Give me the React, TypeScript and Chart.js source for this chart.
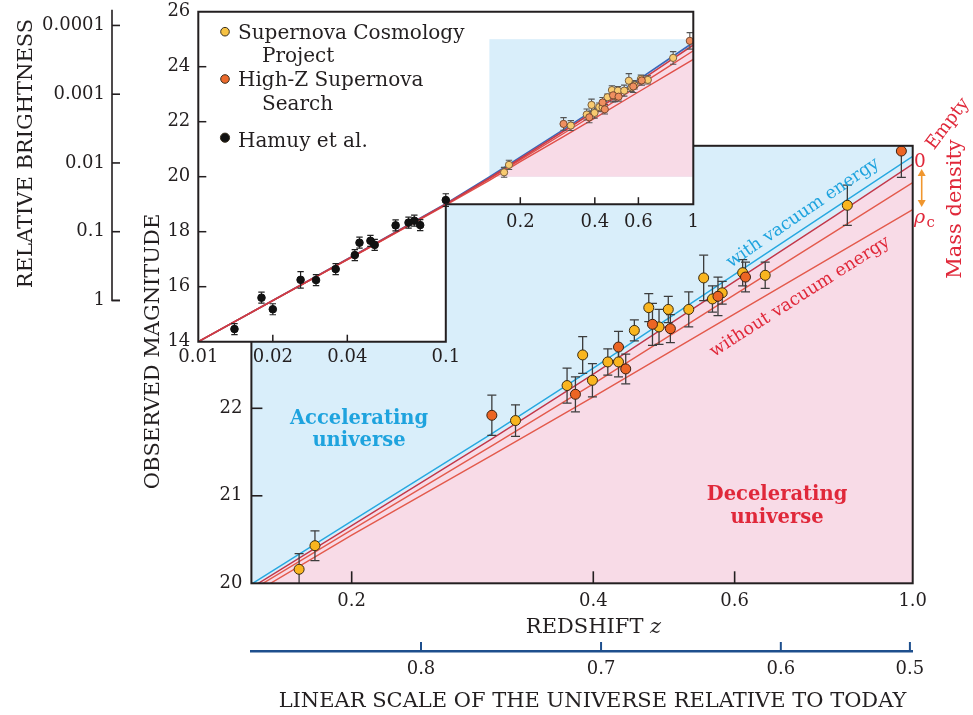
import React, { useEffect, useRef } from "react";
import { Chart, registerables } from "chart.js";

Chart.register(...registerables);

const FONT = "'DejaVu Serif', 'Liberation Serif', serif";
Chart.defaults.font.family = FONT;
Chart.defaults.color = "#231f20";

// ---------------- data ----------------
// Supernova Cosmology Project (yellow)
const scpZ = [0.172, 0.18, 0.32, 0.371, 0.388, 0.399, 0.417, 0.43, 0.45, 0.469, 0.483, 0.496, 0.526, 0.549, 0.563, 0.579, 0.614, 0.655, 0.829];
const scpMag = [20.16, 20.43, 21.86, 22.26, 22.61, 22.32, 22.53, 22.53, 22.89, 23.15, 22.93, 23.13, 23.13, 23.49, 23.25, 23.32, 23.55, 23.52, 24.32];
const scpErr = [0.18, 0.17, 0.18, 0.2, 0.21, 0.19, 0.15, 0.17, 0.12, 0.16, 0.2, 0.15, 0.2, 0.26, 0.15, 0.13, 0.15, 0.15, 0.23];

// High-Z Supernova Search (orange)
const hzZ = [0.299, 0.38, 0.43, 0.439, 0.474, 0.499, 0.572, 0.619, 0.968];
const hzMag = [21.92, 22.16, 22.7, 22.45, 22.96, 22.91, 23.28, 23.5, 24.94];
const hzErr = [0.23, 0.2, 0.18, 0.17, 0.24, 0.16, 0.22, 0.17, 0.3];

// Hamuy et al. (black, inset only)
const hamuyZ = [0.014, 0.018, 0.02, 0.0259, 0.0299, 0.0359, 0.0429, 0.0448, 0.0496, 0.0516, 0.0627, 0.0707, 0.0746, 0.0788, 0.1];
const hamuyMag = [14.46, 15.6, 15.18, 16.25, 16.24, 16.64, 17.15, 17.6, 17.67, 17.52, 18.23, 18.33, 18.4, 18.24, 19.15];
const hamuyErr = [0.2, 0.2, 0.2, 0.3, 0.2, 0.2, 0.2, 0.2, 0.2, 0.2, 0.2, 0.2, 0.2, 0.2, 0.23];

// model curves
const modelZ = [0.01, 0.02, 0.05, 0.1, 0.15, 0.2, 0.3, 0.4, 0.6, 0.8, 1.0];
const vacuumMag = [14.0, 15.5, 17.49, 19.02, 19.99, 20.71, 21.72, 22.46, 23.53, 24.29, 24.88];
const emptyMag = [14.0, 15.5, 17.48, 19.0, 19.95, 20.66, 21.66, 22.39, 23.45, 24.2, 24.79];
const halfMag = [14.0, 15.49, 17.47, 18.99, 19.92, 20.61, 21.58, 22.28, 23.3, 24.02, 24.58];
const critMag = [14.0, 15.49, 17.46, 18.97, 19.87, 20.55, 21.47, 22.13, 23.08, 23.75, 24.27];

// axes / ticks
const mainXTicks = [0.2, 0.4, 0.6, 1.0];
const mainXLabels = ["0.2", "0.4", "0.6", "1.0"];
const mainYTicks = [20, 21, 22];
const scaleTickZ = [0.244, 0.409, 0.685, 0.992];
const scaleTickLabels = ["0.8", "0.7", "0.6", "0.5"];
const insetXTicks = [0.01, 0.02, 0.04, 0.1];
const insetXLabels = ["0.01", "0.02", "0.04", "0.1"];
const insetUpperTicks = [0.2, 0.4, 0.6, 1];
const insetUpperLabels = ["0.2", "0.4", "0.6", "1"];
const insetYTicks = [14, 16, 18, 20, 22, 24, 26];
const brightnessMag = [15.5, 18, 20.5, 23, 25.5];
const brightnessLabels = ["1", "0.1", "0.01", "0.001", "0.0001"];
const shadeZ = [0.15, 1];
const shadeMag = [20, 25];
const insetStepZ = 0.1;
const insetStepMag = 19;

// ---------------- styles ----------------
const INK = "#231f20";
const BLUE_BG = "#d9eefa";
const PINK_BG = "#f8dbe7";
const CYAN = "#27a8e0";
const RED_DARK = "#c3374a";
const RED = "#e35a4c";
const NAVY = "#1e4f8d";
const YELLOW = "#f9b51f";
const ORANGE = "#ec6524";
const YELLOW_PALE = "#f8cb70";
const ORANGE_PALE = "#ef8f60";
const ERR = "#3c3c3c";
const TXT_RED = "#e0283a";
const TXT_CYAN = "#1ea3de";
const TICK_FONT = { family: FONT, size: 18 };

function pts(zs: number[], ms: number[]) {
  return zs.map((z, i) => ({ x: z, y: ms[i] }));
}
function errPts(zs: number[], ms: number[], es: number[]) {
  const out: any[] = [];
  zs.forEach((z, i) => {
    out.push({ x: z, y: ms[i] - es[i] }, { x: z, y: ms[i] + es[i] }, { x: z, y: null });
  });
  return out;
}
function lineDS(data: any[], color: string, width: number, order: number, extra: any = {}) {
  return { type: "line", data, borderColor: color, borderWidth: width, pointRadius: 0, fill: false, tension: 0, order, ...extra };
}
function errDS(data: any[], color: string, width: number, cap: number, order: number) {
  return {
    type: "line", data, borderColor: color, borderWidth: width, pointStyle: "line", pointRadius: cap,
    pointBorderColor: color, pointBorderWidth: width, pointBackgroundColor: color, spanGaps: false, fill: false, order,
  };
}
function dotDS(data: any[], fill: string, stroke: string, r: number, order: number) {
  return { type: "scatter", data, pointRadius: r, pointBackgroundColor: fill, pointBorderColor: stroke, pointBorderWidth: 1, showLine: false, order };
}
function fixed(kind: "w" | "h", size: number) {
  return (s: any) => {
    if (kind === "w") s.width = size;
    else s.height = size;
    s.paddingTop = 0; s.paddingBottom = 0; s.paddingLeft = 0; s.paddingRight = 0;
  };
}
function setTicks(values: number[]) {
  return (s: any) => {
    s.ticks = values.map((v) => ({ value: v }));
  };
}
function text(ctx: CanvasRenderingContext2D, s: string, x: number, y: number, font: string, color: string,
  align: CanvasTextAlign = "center", baseline: CanvasTextBaseline = "alphabetic", rot = 0) {
  ctx.save();
  ctx.translate(x, y);
  if (rot) ctx.rotate(rot);
  ctx.font = font;
  ctx.fillStyle = color;
  ctx.textAlign = align;
  ctx.textBaseline = baseline;
  ctx.fillText(s, 0, 0);
  ctx.restore();
}
function seg(ctx: CanvasRenderingContext2D, x1: number, y1: number, x2: number, y2: number) {
  ctx.beginPath();
  ctx.moveTo(x1, y1);
  ctx.lineTo(x2, y2);
  ctx.stroke();
}
const deg = (d: number) => (d * Math.PI) / 180;

// ---------------- main chart ----------------
const mainDecor = {
  id: "mainDecor",
  beforeDraw(chart: any) {
    const { ctx, chartArea: a } = chart;
    ctx.save();
    ctx.fillStyle = BLUE_BG;
    ctx.fillRect(a.left, a.top, a.right - a.left, a.bottom - a.top);
    ctx.restore();
  },
  afterDatasetsDraw(chart: any) {
    const { ctx } = chart;
    const bold = `bold 19.5px ${FONT}`;
    text(ctx, "Accelerating", 359, 423.5, bold, TXT_CYAN);
    text(ctx, "universe", 359, 445.5, bold, TXT_CYAN);
    text(ctx, "Decelerating", 777, 500, bold, TXT_RED);
    text(ctx, "universe", 777, 523, bold, TXT_RED);
    text(ctx, "with vacuum energy", 803, 213, `17.5px ${FONT}`, TXT_CYAN, "center", "middle", deg(-34.5));
    text(ctx, "without vacuum energy", 800, 297, `17.5px ${FONT}`, TXT_RED, "center", "middle", deg(-32.5));
  },
  afterDraw(chart: any) {
    const { ctx, chartArea: a, scales } = chart;
    ctx.save();
    ctx.strokeStyle = INK;
    ctx.lineWidth = 2;
    ctx.strokeRect(a.left, a.top, a.right - a.left, a.bottom - a.top);
    ctx.lineWidth = 1.6;
    for (const v of mainYTicks) {
      const y = scales.y.getPixelForValue(v);
      if (Math.abs(y - a.bottom) < 2 || Math.abs(y - a.top) < 2) continue;
      seg(ctx, a.left, y, a.left + 11, y);
    }
    for (const v of mainXTicks) {
      const x = scales.x.getPixelForValue(v);
      if (Math.abs(x - a.left) < 2 || Math.abs(x - a.right) < 2) continue;
      seg(ctx, x, a.bottom, x, a.bottom - 12);
    }
    const xs = scales.xs;
    ctx.strokeStyle = NAVY;
    ctx.lineWidth = 2;
    for (const v of scaleTickZ) {
      const x = xs.getPixelForValue(v);
      seg(ctx, x, xs.top, x, xs.top - 9);
    }
    ctx.restore();

    // titles
    const tf = `21px ${FONT}`;
    text(ctx, "OBSERVED MAGNITUDE", 159, 351.5, tf, INK, "center", "alphabetic", -Math.PI / 2);
    ctx.save();
    ctx.font = tf;
    const w1 = ctx.measureText("REDSHIFT ").width;
    ctx.font = `italic 21px ${FONT}`;
    const w2 = ctx.measureText("z").width;
    ctx.restore();
    const x0 = 593.5 - (w1 + w2) / 2;
    text(ctx, "REDSHIFT ", x0, 633, tf, INK, "left");
    text(ctx, "z", x0 + w1, 633, `italic 21px ${FONT}`, INK, "left");
    text(ctx, "LINEAR SCALE OF THE UNIVERSE RELATIVE TO TODAY", 592.5, 707, tf, INK);

    // mass-density annotation
    text(ctx, "0", 920, 166.7, `18.5px ${FONT}`, TXT_RED);
    text(ctx, "Empty", 948, 124, `18px ${FONT}`, TXT_RED, "center", "middle", deg(-53));
    text(ctx, "ρ", 914, 223, `italic 19px ${FONT}`, TXT_RED, "left");
    text(ctx, "c", 926.5, 227, `15px ${FONT}`, TXT_RED, "left");
    text(ctx, "Mass density", 961, 209, `21px ${FONT}`, TXT_RED, "center", "alphabetic", -Math.PI / 2);
    ctx.save();
    ctx.strokeStyle = "#f0962e";
    ctx.fillStyle = "#f0962e";
    ctx.lineWidth = 1.6;
    const ax = 921.7, ay1 = 169, ay2 = 207;
    seg(ctx, ax, ay1 + 5, ax, ay2 - 5);
    ctx.beginPath();
    ctx.moveTo(ax, ay1); ctx.lineTo(ax - 4, ay1 + 7); ctx.lineTo(ax + 4, ay1 + 7); ctx.closePath(); ctx.fill();
    ctx.beginPath();
    ctx.moveTo(ax, ay2); ctx.lineTo(ax - 4, ay2 - 7); ctx.lineTo(ax + 4, ay2 - 7); ctx.closePath(); ctx.fill();
    ctx.restore();
  },
};

function mainConfig(): any {
  return {
    type: "scatter",
    data: {
      datasets: [
        lineDS(pts(modelZ, emptyMag), RED_DARK, 1.4, 10, { fill: "start", backgroundColor: PINK_BG }),
        lineDS(pts(modelZ, critMag), RED, 1.4, 9),
        lineDS(pts(modelZ, halfMag), RED, 1.4, 8),
        lineDS(pts(modelZ, vacuumMag), CYAN, 1.4, 7),
        errDS(errPts(scpZ, scpMag, scpErr), ERR, 1.3, 4.5, 5),
        errDS(errPts(hzZ, hzMag, hzErr), ERR, 1.3, 4.5, 4),
        dotDS(pts(scpZ, scpMag), YELLOW, "#3b2c12", 5, 2),
        dotDS(pts(hzZ, hzMag), ORANGE, "#3b2010", 5, 1),
      ],
    },
    options: {
      responsive: false,
      animation: false,
      events: [],
      layout: { autoPadding: false, padding: { top: 145.8, right: 60.3, bottom: 0, left: 0 } },
      plugins: { legend: { display: false }, tooltip: { enabled: false }, title: { display: false } },
      scales: {
        x: {
          type: "logarithmic", min: 0.15, max: 1, bounds: "data", position: "bottom", weight: 0,
          afterBuildTicks: setTicks(mainXTicks), afterFit: fixed("h", 67.7),
          grid: { display: false, drawTicks: false }, border: { display: false },
          ticks: { autoSkip: false, maxRotation: 0, minRotation: 0, padding: 7.6, color: INK, font: TICK_FONT, callback: (_v: any, i: number) => mainXLabels[i] },
        },
        xs: {
          type: "logarithmic", min: 0.15, max: 1, bounds: "data", position: "bottom", weight: 1,
          afterBuildTicks: setTicks(scaleTickZ), afterFit: fixed("h", 64),
          grid: { display: false, drawTicks: false }, border: { display: true, color: NAVY, width: 2.5 },
          ticks: { autoSkip: false, maxRotation: 0, minRotation: 0, padding: 7.8, color: INK, font: TICK_FONT, callback: (_v: any, i: number) => scaleTickLabels[i] },
        },
        y: {
          type: "linear", min: 20, max: 25, bounds: "data", position: "left",
          afterBuildTicks: setTicks(mainYTicks), afterFit: fixed("w", 251.4),
          grid: { display: false, drawTicks: false }, border: { display: false },
          ticks: { padding: 9, color: INK, font: TICK_FONT, callback: (v: any) => String(v) },
        },
      },
    },
    plugins: [mainDecor],
  };
}

// ---------------- inset chart ----------------
function lPath(chart: any) {
  const { ctx, chartArea: a, scales } = chart;
  const sx = scales.x.getPixelForValue(insetStepZ);
  const sy = scales.y.getPixelForValue(insetStepMag);
  ctx.beginPath();
  ctx.moveTo(a.left, a.top);
  ctx.lineTo(a.right, a.top);
  ctx.lineTo(a.right, sy);
  ctx.lineTo(sx, sy);
  ctx.lineTo(sx, a.bottom);
  ctx.lineTo(a.left, a.bottom);
  ctx.closePath();
  return { sx, sy };
}

const insetDecor = {
  id: "insetDecor",
  beforeDraw(chart: any) {
    const { ctx } = chart;
    ctx.save();
    lPath(chart);
    ctx.fillStyle = "#ffffff";
    ctx.fill();
    ctx.restore();
  },
  beforeDatasetsDraw(chart: any) {
    const { ctx, scales } = chart;
    const x1 = scales.x.getPixelForValue(shadeZ[0]);
    const x2 = scales.x.getPixelForValue(shadeZ[1]);
    const y1 = scales.y.getPixelForValue(shadeMag[1]);
    const y2 = scales.y.getPixelForValue(shadeMag[0]);
    ctx.save();
    ctx.fillStyle = BLUE_BG;
    ctx.fillRect(x1, y1, x2 - x1, y2 - y1);
    ctx.restore();
  },
  afterDraw(chart: any) {
    const { ctx, chartArea: a, scales } = chart;
    ctx.save();
    const { sx, sy } = lPath(chart);
    ctx.strokeStyle = INK;
    ctx.lineWidth = 2;
    ctx.stroke();
    ctx.lineWidth = 1.5;
    for (const v of insetYTicks) {
      const y = scales.y.getPixelForValue(v);
      if (Math.abs(y - a.bottom) < 2 || Math.abs(y - a.top) < 2) continue;
      seg(ctx, a.left, y, a.left + 8, y);
    }
    for (const v of insetXTicks) {
      const x = scales.x.getPixelForValue(v);
      if (Math.abs(x - a.left) < 2 || Math.abs(x - sx) < 2) continue;
      seg(ctx, x, a.bottom, x, a.bottom - 7);
    }
    insetUpperTicks.forEach((v, i) => {
      const x = scales.x.getPixelForValue(v);
      if (Math.abs(x - a.right) > 2) seg(ctx, x, sy, x, sy - 7);
      text(ctx, insetUpperLabels[i], x, sy + 23, `18px ${FONT}`, INK);
    });
    // brightness bracket
    const yb = scales.yb;
    const bx = yb.right;
    const yBottom = yb.getPixelForValue(brightnessMag[0]);
    ctx.lineWidth = 1.6;
    ctx.beginPath();
    ctx.moveTo(bx, a.top - 2);
    ctx.lineTo(bx, yBottom);
    ctx.lineTo(bx + 8, yBottom);
    ctx.stroke();
    for (const v of brightnessMag) {
      const y = yb.getPixelForValue(v);
      seg(ctx, bx, y, bx + 8, y);
    }
    ctx.restore();

    text(ctx, "RELATIVE BRIGHTNESS", 31.5, 153.5, `21px ${FONT}`, INK, "center", "alphabetic", -Math.PI / 2);

    // legend
    const lf = `20px ${FONT}`;
    const dot = (x: number, y: number, fill: string, r: number) => {
      ctx.save();
      ctx.beginPath();
      ctx.arc(x, y, r, 0, Math.PI * 2);
      ctx.fillStyle = fill;
      ctx.fill();
      ctx.strokeStyle = "#3a3020";
      ctx.lineWidth = 1;
      ctx.stroke();
      ctx.restore();
    };
    dot(225, 31.7, "#f6c244", 4.3);
    dot(225, 79, "#ec6a2c", 4.3);
    dot(225, 137.7, "#111111", 4.6);
    text(ctx, "Supernova Cosmology", 238, 39.3, lf, INK, "left");
    text(ctx, "Project", 262, 61.7, lf, INK, "left");
    text(ctx, "High-Z Supernova", 238, 86, lf, INK, "left");
    text(ctx, "Search", 262, 110, lf, INK, "left");
    text(ctx, "Hamuy et al.", 238, 146.7, lf, INK, "left");
  },
};

function insetConfig(): any {
  const fillZ = modelZ.filter((z) => z >= shadeZ[0]);
  const fillMag = emptyMag.filter((_m, i) => modelZ[i] >= shadeZ[0]);
  return {
    type: "scatter",
    data: {
      datasets: [
        lineDS(pts(fillZ, fillMag), "rgba(0,0,0,0)", 0, 20, { fill: { value: shadeMag[0] }, backgroundColor: PINK_BG }),
        lineDS(pts(modelZ, vacuumMag), "#3a66b8", 1.6, 15),
        lineDS(pts(modelZ, critMag), "#e0504a", 1.4, 14),
        lineDS(pts(modelZ, halfMag), "#e0504a", 1.4, 13),
        lineDS(pts(modelZ, emptyMag), "#cc3b46", 1.6, 12),
        errDS(errPts(hamuyZ, hamuyMag, hamuyErr), "#222222", 1.2, 3.2, 6),
        errDS(errPts(scpZ, scpMag, scpErr), "#555555", 1.1, 3.2, 5),
        errDS(errPts(hzZ, hzMag, hzErr), "#555555", 1.1, 3.2, 4),
        dotDS(pts(scpZ, scpMag), YELLOW_PALE, "#7a6040", 3.6, 3),
        dotDS(pts(hzZ, hzMag), ORANGE_PALE, "#7a4a30", 3.6, 2),
        dotDS(pts(hamuyZ, hamuyMag), "#111111", "#111111", 3.8, 1),
      ],
    },
    options: {
      responsive: false,
      animation: false,
      events: [],
      layout: { autoPadding: false, padding: { top: 11.7, right: 6.7, bottom: 0, left: 0 } },
      plugins: { legend: { display: false }, tooltip: { enabled: false }, title: { display: false } },
      scales: {
        x: {
          type: "logarithmic", min: 0.01, max: 1, bounds: "data", position: "bottom",
          afterBuildTicks: setTicks(insetXTicks), afterFit: fixed("h", 38.3),
          grid: { display: false, drawTicks: false }, border: { display: false },
          ticks: { autoSkip: false, maxRotation: 0, minRotation: 0, padding: 5, color: INK, font: TICK_FONT, callback: (_v: any, i: number) => insetXLabels[i] },
        },
        y: {
          type: "linear", min: 14, max: 26, bounds: "data", position: "left", weight: 0,
          afterBuildTicks: setTicks(insetYTicks), afterFit: fixed("w", 86.3),
          grid: { display: false, drawTicks: false }, border: { display: false },
          ticks: { padding: 8, color: INK, font: TICK_FONT, callback: (v: any) => String(v) },
        },
        yb: {
          type: "linear", min: 14, max: 26, bounds: "data", position: "left", weight: 1,
          afterBuildTicks: setTicks(brightnessMag), afterFit: fixed("w", 112),
          grid: { display: false, drawTicks: false }, border: { display: false },
          ticks: { padding: 7, color: INK, font: TICK_FONT, callback: (_v: any, i: number) => brightnessLabels[i] },
        },
      },
    },
    plugins: [insetDecor],
  };
}

export default function App() {
  const mainRef = useRef<HTMLCanvasElement>(null);
  const insetRef = useRef<HTMLCanvasElement>(null);
  useEffect(() => {
    const main = new Chart(mainRef.current as HTMLCanvasElement, mainConfig());
    const inset = new Chart(insetRef.current as HTMLCanvasElement, insetConfig());
    return () => {
      main.destroy();
      inset.destroy();
    };
  }, []);
  return (
    <div style={{ position: "absolute", left: 0, top: 0, width: 973, height: 715, background: "#ffffff", overflow: "hidden" }}>
      <canvas ref={mainRef} width={973} height={715} style={{ position: "absolute", left: 0, top: 0 }} />
      <canvas ref={insetRef} width={700} height={380} style={{ position: "absolute", left: 0, top: 0 }} />
    </div>
  );
}
